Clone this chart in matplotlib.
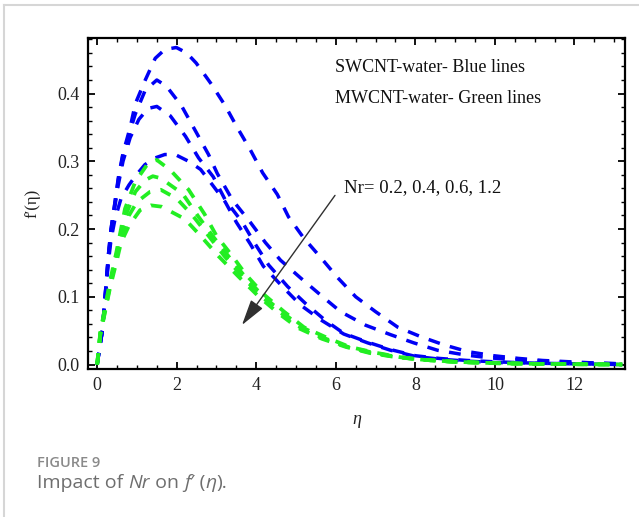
import matplotlib
matplotlib.use('Agg')
import matplotlib.pyplot as plt
from matplotlib.ticker import MultipleLocator, FormatStrFormatter
from matplotlib.lines import Line2D

# ---- data (eta, f'(eta)) ----
b1_x = [0, 0.05, 0.13, 0.2, 0.28, 0.35, 0.45, 0.53, 0.65, 0.83, 0.96, 1.21, 1.46, 1.7, 1.99, 2.25, 2.49, 2.87, 3.22, 3.53, 3.85, 4.16, 4.53, 4.81, 5.19, 5.62, 6.05, 6.5, 7.0, 7.56, 8.14, 8.72, 9.32, 9.97, 10.6, 11.2, 11.9, 12.6, 13.2]
b1_y = [0, 0.02, 0.05, 0.10, 0.16, 0.20, 0.24, 0.275, 0.312, 0.35, 0.385, 0.42, 0.452, 0.465, 0.468, 0.46, 0.445, 0.414, 0.382, 0.349, 0.317, 0.283, 0.251, 0.218, 0.187, 0.158, 0.128, 0.10, 0.078, 0.055, 0.041, 0.029, 0.019, 0.013, 0.009, 0.006, 0.004, 0.002, 0.001]

b2_x = [0, 0.05, 0.13, 0.2, 0.28, 0.35, 0.45, 0.53, 0.65, 0.83, 0.96, 1.21, 1.5, 1.74, 2.12, 2.47, 2.8, 3.02, 3.4, 3.85, 4.23, 4.61, 5.11, 5.67, 6.12, 6.75, 7.38, 7.96, 8.56, 9.27, 9.85, 10.5, 11.2, 12.0, 12.6, 13.2]
b2_y = [0, 0.02, 0.05, 0.10, 0.16, 0.20, 0.24, 0.272, 0.31, 0.345, 0.37, 0.405, 0.42, 0.411, 0.382, 0.345, 0.31, 0.282, 0.243, 0.21, 0.18, 0.154, 0.128, 0.10, 0.078, 0.058, 0.044, 0.032, 0.021, 0.014, 0.01, 0.007, 0.005, 0.003, 0.002, 0.001]

b3_x = [0, 0.05, 0.13, 0.2, 0.28, 0.35, 0.45, 0.53, 0.65, 0.83, 1.05, 1.28, 1.5, 1.84, 2.22, 2.55, 2.92, 3.22, 3.65, 3.95, 4.31, 4.79, 5.24, 5.74, 6.2, 6.8, 7.38, 8.0, 8.6, 9.3, 10.0, 11.0, 12.0, 13.2]
b3_y = [0, 0.02, 0.05, 0.10, 0.155, 0.195, 0.235, 0.265, 0.30, 0.335, 0.362, 0.378, 0.381, 0.367, 0.337, 0.305, 0.277, 0.243, 0.21, 0.18, 0.147, 0.115, 0.09, 0.065, 0.046, 0.033, 0.022, 0.013, 0.009, 0.006, 0.004, 0.002, 0.001, 0.0]

b4_x = [0, 0.05, 0.13, 0.2, 0.28, 0.35, 0.45, 0.6, 0.8, 0.96, 1.2, 1.46, 1.7, 1.96, 2.3, 2.6, 2.9, 3.22, 3.5, 3.85, 4.18, 4.66, 5.11, 5.62, 6.2, 6.8, 7.38, 8.0, 8.6, 9.3, 10.0, 11.0, 12.0, 13.2]
b4_y = [0, 0.02, 0.05, 0.095, 0.15, 0.185, 0.215, 0.245, 0.265, 0.278, 0.295, 0.305, 0.31, 0.31, 0.30, 0.288, 0.265, 0.24, 0.21, 0.178, 0.145, 0.115, 0.088, 0.066, 0.045, 0.032, 0.021, 0.012, 0.008, 0.005, 0.003, 0.002, 0.001, 0.0]

g1_x = [0, 0.08, 0.2, 0.33, 0.48, 0.6, 0.7, 0.96, 1.28, 1.5, 1.84, 2.3, 2.7, 3.0, 3.4, 3.75, 4.2, 4.7, 5.2, 5.8, 6.35, 6.95, 7.6, 8.2, 9.0, 10.0, 11.0, 12.0, 13.2]
g1_y = [0, 0.048, 0.085, 0.125, 0.165, 0.20, 0.23, 0.27, 0.297, 0.302, 0.287, 0.258, 0.222, 0.19, 0.16, 0.132, 0.103, 0.078, 0.055, 0.039, 0.026, 0.018, 0.011, 0.007, 0.004, 0.002, 0.001, 0.0005, 0.0]

g2_x = [0, 0.08, 0.2, 0.33, 0.48, 0.6, 0.75, 0.96, 1.2, 1.4, 1.6, 2.15, 2.55, 2.9, 3.3, 3.7, 4.15, 4.65, 5.15, 5.75, 6.3, 6.9, 7.55, 8.2, 9.0, 10.0, 11.0, 12.0, 13.2]
g2_y = [0, 0.046, 0.083, 0.12, 0.16, 0.195, 0.225, 0.255, 0.272, 0.278, 0.275, 0.252, 0.218, 0.19, 0.16, 0.131, 0.102, 0.077, 0.055, 0.038, 0.026, 0.018, 0.011, 0.007, 0.004, 0.002, 0.001, 0.0005, 0.0]

g3_x = [0, 0.08, 0.2, 0.33, 0.48, 0.6, 0.8, 1.0, 1.33, 1.6, 2.0, 2.4, 2.8, 3.2, 3.65, 4.1, 4.6, 5.1, 5.7, 6.3, 6.9, 7.55, 8.2, 9.0, 10.0, 11.0, 12.0, 13.2]
g3_y = [0, 0.045, 0.08, 0.118, 0.155, 0.188, 0.22, 0.24, 0.255, 0.258, 0.245, 0.22, 0.19, 0.16, 0.13, 0.102, 0.077, 0.055, 0.038, 0.026, 0.017, 0.011, 0.007, 0.004, 0.002, 0.001, 0.0005, 0.0]

g4_x = [0, 0.08, 0.2, 0.33, 0.48, 0.6, 0.8, 1.08, 1.35, 1.62, 2.2, 2.6, 3.05, 3.55, 4.05, 4.55, 5.05, 5.65, 6.25, 6.85, 7.5, 8.2, 9.0, 10.0, 11.0, 12.0, 13.2]
g4_y = [0, 0.044, 0.078, 0.115, 0.15, 0.18, 0.205, 0.228, 0.235, 0.233, 0.215, 0.19, 0.16, 0.13, 0.101, 0.076, 0.054, 0.038, 0.026, 0.017, 0.011, 0.007, 0.004, 0.002, 0.001, 0.0005, 0.0]

x_ticks = [0, 2, 4, 6, 8, 10, 12]
y_ticks = [0.0, 0.1, 0.2, 0.3, 0.4]

blue_curves = [(b1_x, b1_y), (b2_x, b2_y), (b3_x, b3_y), (b4_x, b4_y)]
green_curves = [(g1_x, g1_y), (g2_x, g2_y), (g3_x, g3_y), (g4_x, g4_y)]

BLUE = '#0000F5'
GREEN = '#22EE22'
SERIF = 'Liberation Serif'

fig = plt.figure(figsize=(6.39, 5.17), dpi=100)
ax = fig.add_axes([88/639, 1-369/517, (625-88)/639, (369-38)/517])

for x, y in blue_curves:
    ln, = ax.plot(x, y, color=BLUE, lw=2.5)
    ln.set_dashes((3.4, 3.0))
for x, y in green_curves:
    ln, = ax.plot(x, y, color=GREEN, lw=2.7)
    ln.set_dashes((3.0, 2.8))

ax.set_xlim(-0.23, 13.27)
ax.set_ylim(-0.0066, 0.482)
ax.set_xticks(x_ticks)
ax.set_yticks(y_ticks)
ax.xaxis.set_minor_locator(MultipleLocator(0.5))
ax.yaxis.set_minor_locator(MultipleLocator(0.02))
ax.yaxis.set_major_formatter(FormatStrFormatter('%.1f'))
ax.tick_params(which='both', direction='in', top=True, right=True, color='black')
ax.tick_params(which='major', length=5, width=1.3, pad=6, labelsize=13, labelcolor='#222222')
ax.tick_params(which='minor', length=3, width=1.0)
for lab in ax.get_xticklabels() + ax.get_yticklabels():
    lab.set_family(SERIF)
for s in ax.spines.values():
    s.set_linewidth(1.6)

ax.set_xlabel('η', fontfamily=SERIF, fontstyle='italic', fontsize=13, color='#222222', labelpad=12)
ax.set_ylabel("f′(η)", fontfamily=SERIF, fontsize=12, color='#222222', labelpad=12)

ax.text(5.97, 0.438, 'SWCNT-water- Blue lines', fontfamily=SERIF, fontsize=13, va='center', ha='left', color='#111111')
ax.text(5.97, 0.392, 'MWCNT-water- Green lines', fontfamily=SERIF, fontsize=13, va='center', ha='left', color='#111111')
ax.text(6.2, 0.261, 'Nr= 0.2, 0.4, 0.6, 1.2', fontfamily=SERIF, fontsize=13.5, va='center', ha='left', color='#111111')
ax.annotate('', xy=(3.6, 0.055), xytext=(6.02, 0.253),
            arrowprops=dict(arrowstyle='-|>,head_length=1.0,head_width=0.28', color='#303030', lw=1.0, mutation_scale=16))

# card borders
fig.add_artist(Line2D([4/639, 4/639], [0, 1-5/517], transform=fig.transFigure, color='#d6d6d6', lw=1.5))
fig.add_artist(Line2D([4/639, 1], [1-5/517, 1-5/517], transform=fig.transFigure, color='#d6d6d6', lw=1.5))

fig.text(37/639, 1-463/517, 'FIGURE 9', fontfamily='Open Sans', fontweight='semibold', fontsize=10.5, color='#8a8a8a', va='center', ha='left')

# caption built from pieces (roman / italic)
pieces = [('Impact of ', 'normal'), ('Nr', 'italic'), (' on ', 'normal'), ('f', 'italic'),
          ('′ (', 'normal'), ('η', 'italic'), (').', 'normal')]
fig.canvas.draw()
renderer = fig.canvas.get_renderer()
xpos = 37
for txt, style in pieces:
    t = fig.text(xpos/639, 1-483/517, txt, fontfamily='Open Sans', fontstyle=style, fontsize=14,
                 color='#6e6e6e', va='center', ha='left')
    bb = t.get_window_extent(renderer=renderer)
    xpos = bb.x1

fig.savefig('out.png', dpi=100)
